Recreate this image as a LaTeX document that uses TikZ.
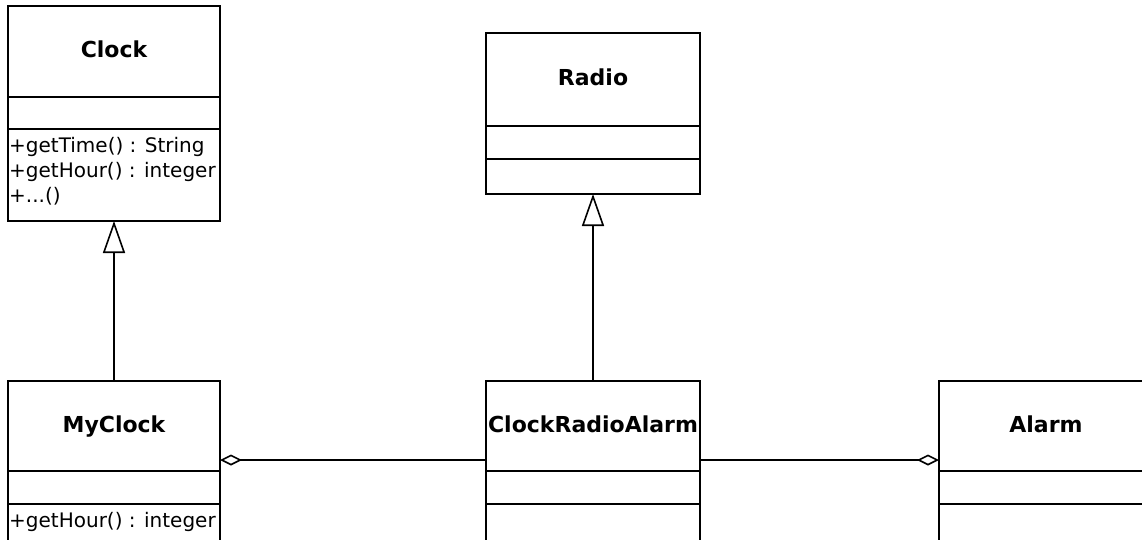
\documentclass[tikz,border=0pt]{standalone}
\usepackage{fontspec}
\setmainfont{DejaVu Sans}
\usetikzlibrary{arrows.meta,positioning}

\begin{document}
\begin{tikzpicture}[x=1pt, y=-1pt,
    classname/.style={rectangle, draw, line width=1.6pt, outer sep=0pt, inner sep=0pt,
        minimum width=214pt, minimum height=90pt, text height=16pt, text depth=4pt,
        font=\fontsize{22}{26}\selectfont\bfseries},
    compart/.style={rectangle, draw, line width=1.6pt, outer sep=0pt, inner sep=0pt,
        minimum width=214pt},
    ops/.style={anchor=north west, align=left, inner sep=0pt, font=\fontsize{20}{25}\selectfont},
    inherit/.style={-{Triangle[open, length=32pt, width=22pt]}, line width=1.6pt},
    aggr/.style={-{Diamond[open, length=22pt, width=11pt]}, line width=1.6pt}
]
    \useasboundingbox (0,0) rectangle (1142,539);
    \clip (0,0) rectangle (1142,539);

    % superclasses
    \node[classname, minimum width=212pt, minimum height=91pt] (clock) at (114,51.5) {Clock};
    \node[compart, minimum width=212pt, minimum height=32pt, below=0pt of clock] (clockattr) {};
    \node[compart, minimum width=212pt, minimum height=92pt, below=0pt of clockattr] (clockops) {};
    \node[ops] (clockopstext) at ([xshift=1pt, yshift=-8pt]clockops.north west)
        {+getTime() : String\\+getHour() : integer\\+...()};

    \node[classname, minimum height=93pt] (radio) at (593,79.5) {Radio};
    \node[compart, minimum height=33pt, below=0pt of radio] (radioattr) {};
    \node[compart, minimum height=35pt, below=0pt of radioattr] (radioops) {};

    % subclasses and parts
    \node[classname, minimum width=212pt] (myclock) at (114,426) {MyClock};
    \node[compart, minimum width=212pt, minimum height=33pt, below=0pt of myclock] (myclockattr) {};
    \node[compart, minimum width=212pt, minimum height=92pt, below=0pt of myclockattr] (myclockops) {};
    \node[ops] (myclockopstext) at ([xshift=1pt, yshift=-8pt]myclockops.north west)
        {+getHour() : integer};

    \node[classname] (cra) at (593,426) {ClockRadioAlarm};
    \node[compart, minimum height=33pt, below=0pt of cra] (craattr) {};
    \node[compart, minimum height=92pt, below=0pt of craattr] (craops) {};

    \node[classname] (alarm) at (1046,426) {Alarm};
    \node[compart, minimum height=33pt, below=0pt of alarm] (alarmattr) {};
    \node[compart, minimum height=92pt, below=0pt of alarmattr] (alarmops) {};

    % relations
    \draw[inherit] (myclock) -- (clockops);
    \draw[inherit] (cra) -- (radioops);
    \draw[aggr] ([yshift=11pt]cra.south west) -- ([yshift=11pt]myclock.south east);
    \draw[aggr] ([yshift=11pt]cra.south east) -- ([yshift=11pt]alarm.south west);
\end{tikzpicture}
\end{document}
